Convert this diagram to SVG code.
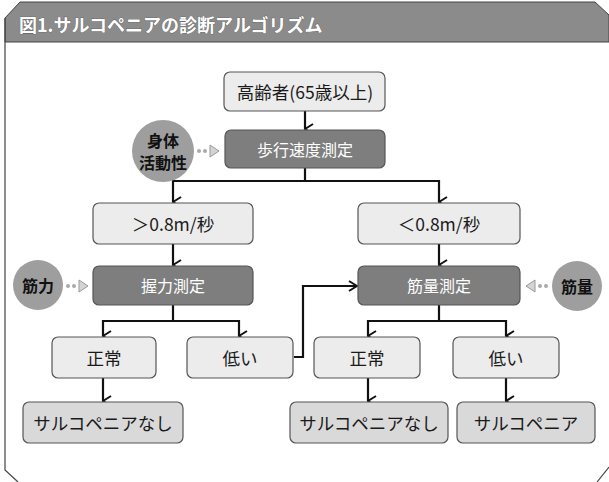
<svg xmlns="http://www.w3.org/2000/svg" width="609" height="482" viewBox="0 0 609 482">
<defs>
<marker id="chev" viewBox="0 0 12 10" refX="6" refY="9" markerWidth="12" markerHeight="10" markerUnits="userSpaceOnUse" orient="auto-start-reverse">
<path d="M1,1 L6,9 L11,1" fill="none" stroke="#111" stroke-width="2"/>
</marker>
<marker id="chevr" viewBox="0 0 10 12" refX="9" refY="6" markerWidth="10" markerHeight="12" markerUnits="userSpaceOnUse" orient="0">
<path d="M1,1 L9,6 L1,11" fill="none" stroke="#111" stroke-width="2"/>
</marker>
</defs>
<style>
text{font-family:"Noto Sans CJK JP","Noto Sans",sans-serif;text-anchor:middle;dominant-baseline:central}
.light{fill:#ececec;stroke:#555;stroke-width:1.2}
.end{fill:#d9d9d9;stroke:#555;stroke-width:1.2}
.dark{fill:#7e7e7e;stroke:#555;stroke-width:1.2}
.circ{fill:#9e9e9e}
.t{font-size:17.5px;fill:#1a1a1a}
.tw{font-size:16px;fill:#fff}
.tc{font-size:16px;fill:#111;font-weight:bold}
.conn{fill:none;stroke:#111;stroke-width:2.2}
.dot{fill:#aaa}
.tri{fill:#d4d4d4;stroke:#999;stroke-width:1}
</style>
<rect width="609" height="482" fill="#fff"/>
<g id="frame">
<path d="M5,18 L20,2 L595,2 L609,15 L609,42 L5,42 Z" fill="#8b8b8b" stroke="#444" stroke-width="1"/>
<path d="M5,18 L5,470 L18,482" fill="none" stroke="#444" stroke-width="1.2"/>
<path d="M597,482 L609,467" fill="none" stroke="#444" stroke-width="1.2"/>
<text x="19" y="24" style="font-size:18px;font-weight:bold;fill:#fff;text-anchor:start;stroke:#555;stroke-width:0.6;paint-order:stroke">図1.サルコペニアの診断アルゴリズム</text>
</g>
<g id="connectors">
<path class="conn" d="M305,111 V129" marker-end="url(#chev)"/>
<path class="conn" d="M305,168 V181 H173 V202" marker-end="url(#chev)"/>
<path class="conn" d="M305,181 H439 V202" marker-end="url(#chev)"/>
<path class="conn" d="M173,244 V265" marker-end="url(#chev)"/>
<path class="conn" d="M439,244 V265" marker-end="url(#chev)"/>
<path class="conn" d="M173,305 V321 H103 V336" marker-end="url(#chev)"/>
<path class="conn" d="M173,321 H239 V336" marker-end="url(#chev)"/>
<path class="conn" d="M439,305 V321 H368 V336" marker-end="url(#chev)"/>
<path class="conn" d="M439,321 H506 V336" marker-end="url(#chev)"/>
<path class="conn" d="M103,378 V401" marker-end="url(#chev)"/>
<path class="conn" d="M368,378 V401" marker-end="url(#chev)"/>
<path class="conn" d="M506,378 V401" marker-end="url(#chev)"/>
<path class="conn" d="M294,357 H303 V286 H357" marker-end="url(#chevr)"/>
<g id="in1"><circle class="dot" cx="199" cy="151" r="2"/><circle class="dot" cx="205" cy="151" r="2"/><path class="tri" d="M210,145 L219,151 L210,157 Z"/></g>
<g id="in2"><circle class="dot" cx="68" cy="286" r="2"/><circle class="dot" cx="74" cy="286" r="2"/><path class="tri" d="M79,280 L88,286 L79,292 Z"/></g>
<g id="in3"><circle class="dot" cx="546" cy="286" r="2"/><circle class="dot" cx="540" cy="286" r="2"/><path class="tri" d="M535,280 L526,286 L535,292 Z"/></g>
</g>
<g id="n_elderly"><rect class="light" x="224" y="72" width="161" height="39" rx="6"/><text class="t" x="305" y="91">高齢者(65歳以上)</text></g>
<g id="n_gait"><rect class="dark" x="225" y="130" width="160" height="38" rx="6"/><text class="tw" x="305" y="149">歩行速度測定</text></g>
<g id="c_activity"><circle class="circ" cx="163" cy="151" r="31"/><text class="tc" x="163" y="140">身体</text><text class="tc" x="163" y="162">活動性</text></g>
<g id="n_fast"><rect class="light" x="93" y="203" width="160" height="41" rx="6"/><text class="t" x="173" y="223">＞0.8m/秒</text></g>
<g id="n_slow"><rect class="light" x="358" y="203" width="162" height="41" rx="6"/><text class="t" x="439" y="223">＜0.8m/秒</text></g>
<g id="n_grip"><rect class="dark" x="93" y="266" width="160" height="39" rx="6"/><text class="tw" x="173" y="285">握力測定</text></g>
<g id="n_mass"><rect class="dark" x="358" y="266" width="162" height="39" rx="6"/><text class="tw" x="439" y="285">筋量測定</text></g>
<g id="c_strength"><circle class="circ" cx="38" cy="285" r="25"/><text class="tc" x="38" y="285">筋力</text></g>
<g id="c_muscle"><circle class="circ" cx="577" cy="286" r="25"/><text class="tc" x="577" y="286">筋量</text></g>
<g id="n_normal1"><rect class="light" x="52" y="337" width="104" height="41" rx="6"/><text class="t" x="104" y="357">正常</text></g>
<g id="n_low1"><rect class="light" x="187" y="337" width="106" height="41" rx="6"/><text class="t" x="240" y="357">低い</text></g>
<g id="n_normal2"><rect class="light" x="314" y="337" width="106" height="41" rx="6"/><text class="t" x="367" y="357">正常</text></g>
<g id="n_low2"><rect class="light" x="453" y="337" width="106" height="41" rx="6"/><text class="t" x="506" y="357">低い</text></g>
<g id="n_none1"><rect class="end" x="23" y="402" width="160" height="41" rx="6"/><text class="t" x="103" y="422">サルコペニアなし</text></g>
<g id="n_none2"><rect class="end" x="290" y="402" width="158" height="41" rx="6"/><text class="t" x="369" y="422">サルコペニアなし</text></g>
<g id="n_sarc"><rect class="end" x="457" y="402" width="138" height="41" rx="6"/><text class="t" x="526" y="422">サルコペニア</text></g>
</svg>
